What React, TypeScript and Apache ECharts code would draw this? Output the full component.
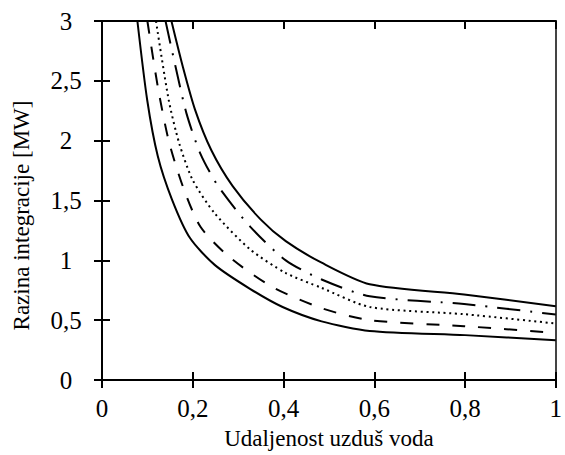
import React, { useEffect, useRef } from "react";
import * as echarts from "echarts";

const xTicks = [0, 0.2, 0.4, 0.6, 0.8, 1];
const yTicks = [0, 0.5, 1, 1.5, 2, 2.5, 3];
const xTitle = "Udaljenost uzduš voda";
const yTitle = "Razina integracije [MW]";

const lowerSolid: [number, number][] = [
  [0.078, 3.0], [0.0996, 2.34], [0.123, 1.87], [0.1545, 1.506], [0.194, 1.186],
  [0.249, 0.96], [0.327, 0.76], [0.398, 0.61], [0.484, 0.49], [0.59, 0.41],
  [0.8, 0.375], [1.0, 0.333],
];
const dashed: [number, number][] = [
  [0.1, 3.0], [0.123, 2.45], [0.147, 2.0], [0.178, 1.62], [0.217, 1.28],
  [0.28, 1.03], [0.374, 0.78], [0.484, 0.6], [0.59, 0.5], [0.798, 0.45], [1.0, 0.394],
];
const dotted: [number, number][] = [
  [0.119, 3.0], [0.147, 2.34], [0.17, 1.98], [0.2, 1.67], [0.249, 1.39],
  [0.327, 1.09], [0.405, 0.894], [0.484, 0.77], [0.59, 0.61], [0.798, 0.55], [1.0, 0.472],
];
const dashDot: [number, number][] = [
  [0.14, 3.0], [0.162, 2.62], [0.186, 2.23], [0.217, 1.89], [0.256, 1.62],
  [0.327, 1.28], [0.405, 1.0], [0.484, 0.84], [0.59, 0.7], [0.798, 0.635], [1.0, 0.547],
];
const upperSolid: [number, number][] = [
  [0.153, 3.0], [0.178, 2.62], [0.205, 2.26], [0.241, 1.92], [0.288, 1.62],
  [0.35, 1.34], [0.405, 1.16], [0.484, 0.98], [0.59, 0.8], [0.798, 0.714], [1.0, 0.617],
];

const FONT = "'Liberation Serif', 'Times New Roman', serif";
const comma = (v: number) => String(v).replace(".", ",");

export default function App() {
  const ref = useRef<HTMLDivElement>(null);
  useEffect(() => {
    if (!ref.current) return;
    const chart = echarts.init(ref.current, undefined, { renderer: "svg" });
    const xMin = xTicks[0];
    const xMax = xTicks[xTicks.length - 1];
    const xInt = xTicks[1] - xTicks[0];
    const yMin = yTicks[0];
    const yMax = yTicks[yTicks.length - 1];
    const yInt = yTicks[1] - yTicks[0];
    const lineCommon = { show: true, onZero: false, lineStyle: { color: "#000", width: 2 } };
    const tickStyle = { color: "#000", width: 2 };
    const mkLine = (data: [number, number][], type: any) => ({
      type: "line",
      data,
      xAxisIndex: 0,
      yAxisIndex: 0,
      symbol: "none",
      smooth: 0.25,
      clip: true,
      lineStyle: { color: "#000", width: 2, type },
    });
    chart.setOption({
      animation: false,
      backgroundColor: "#fff",
      grid: { left: 102, right: 4, top: 21, bottom: 74, containLabel: false },
      xAxis: [
        {
          type: "value", min: xMin, max: xMax, interval: xInt, position: "bottom",
          axisLine: lineCommon,
          axisTick: { show: true, inside: false, length: 8, lineStyle: tickStyle },
          axisLabel: { formatter: comma, fontFamily: FONT, fontSize: 25, color: "#000", margin: 16 },
          splitLine: { show: false },
          name: xTitle, nameLocation: "middle", nameGap: 47,
          nameTextStyle: { fontFamily: FONT, fontSize: 23, color: "#000" },
        },
        {
          type: "value", min: xMin, max: xMax, interval: xInt, position: "top",
          axisLine: lineCommon,
          axisTick: { show: true, inside: true, length: 8, lineStyle: tickStyle },
          axisLabel: { show: false }, splitLine: { show: false },
        },
        {
          type: "value", min: xMin, max: xMax, interval: xInt, position: "bottom",
          axisLine: { show: false, onZero: false },
          axisTick: { show: true, inside: true, length: 8, lineStyle: tickStyle },
          axisLabel: { show: false }, splitLine: { show: false },
        },
      ],
      yAxis: [
        {
          type: "value", min: yMin, max: yMax, interval: yInt, position: "left",
          axisLine: lineCommon,
          axisTick: { show: true, inside: false, length: 8, lineStyle: tickStyle },
          axisLabel: { formatter: comma, fontFamily: FONT, fontSize: 25, color: "#000", margin: 36, align: "center" },
          splitLine: { show: false },
          name: yTitle, nameLocation: "middle", nameGap: 69,
          nameTextStyle: { fontFamily: FONT, fontSize: 23, color: "#000", padding: [0, 30, 0, 0] },
        },
        {
          type: "value", min: yMin, max: yMax, interval: yInt, position: "right",
          axisLine: { show: true, onZero: false, lineStyle: { color: "#444", width: 2 } },
          axisTick: { show: false }, axisLabel: { show: false }, splitLine: { show: false },
        },
        {
          type: "value", min: yMin, max: yMax, interval: yInt, position: "left",
          axisLine: { show: false, onZero: false },
          axisTick: { show: true, inside: true, length: 8, lineStyle: tickStyle },
          axisLabel: { show: false }, splitLine: { show: false },
        },
      ],
      series: [
        mkLine(lowerSolid, "solid"),
        mkLine(dashed, [13, 13]),
        mkLine(dotted, [2, 3.7]),
        mkLine(dashDot, [23, 10, 2, 10]),
        mkLine(upperSolid, "solid"),
      ],
    });
    return () => chart.dispose();
  }, []);
  return <div ref={ref} style={{ width: 565, height: 455, position: "absolute", left: 0, top: 0 }} />;
}
